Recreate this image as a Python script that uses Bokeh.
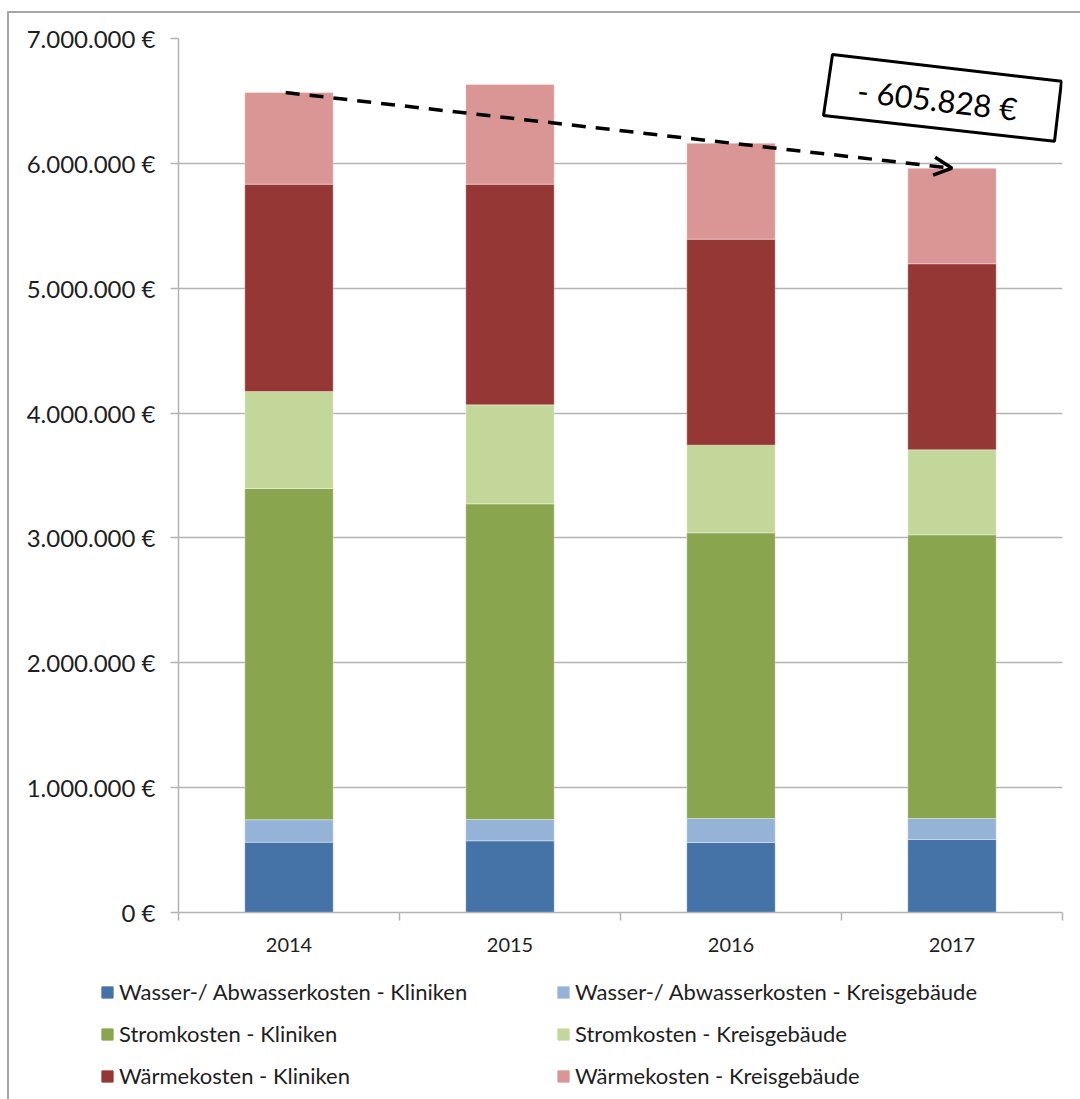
from bokeh.plotting import figure
from bokeh.layouts import column, row
from bokeh.models import (ColumnDataSource, Range1d, FixedTicker, Legend, LegendItem,
                          Arrow, OpenHead, Label, PolyAnnotation)
from bokeh.embed import file_html
from bokeh.resources import INLINE

# ---------------- data ----------------
years = ["2014", "2015", "2016", "2017"]
wasser_kliniken = [563000, 574000, 561000, 585000]
wasser_kreis = [180000, 171000, 192000, 168000]
strom_kliniken = [2653000, 2528000, 2288000, 2272000]
strom_kreis = [777000, 793000, 702000, 681000]
waerme_kliniken = [1660000, 1767000, 1650000, 1490000]
waerme_kreis = [734000, 799000, 768000, 765000]
y_ticks = [0, 1000000, 2000000, 3000000, 4000000, 5000000, 6000000, 7000000]
annotation_text = "- 605.828 €"

series_names = [
    "Wasser-/ Abwasserkosten - Kliniken",
    "Wasser-/ Abwasserkosten - Kreisgebäude",
    "Stromkosten - Kliniken",
    "Stromkosten - Kreisgebäude",
    "Wärmekosten - Kliniken",
    "Wärmekosten - Kreisgebäude",
]
colors = ["#4572A7", "#95B3D7", "#89A54E", "#C4D79B", "#953735", "#D99694"]

FONT = "Lato"
TXT = "#1e1e1e"
GRID = "#b3b3b3"

x = [i + 0.5 for i in range(len(years))]
keys = ["wk", "wkr", "sk", "skr", "wak", "wakr"]
data = dict(x=x, wk=wasser_kliniken, wkr=wasser_kreis, sk=strom_kliniken,
            skr=strom_kreis, wak=waerme_kliniken, wakr=waerme_kreis)
src = ColumnDataSource(data)
totals = [sum(v) for v in zip(wasser_kliniken, wasser_kreis, strom_kliniken,
                               strom_kreis, waerme_kliniken, waerme_kreis)]

# ---------------- main chart ----------------
p = figure(width=1071, height=962, output_backend="svg", toolbar_location=None,
           x_range=Range1d(0, len(years)), y_range=Range1d(0, 7000000),
           min_border_left=169, min_border_right=18, min_border_top=25,
           min_border_bottom=63)
p.outline_line_color = None
p.background_fill_color = "white"
p.border_fill_color = "white"

renderers = p.vbar_stack(keys, x="x", width=0.4, source=src, color=colors,
                         line_color="white", line_alpha=0.35, line_width=1)

p.xaxis.ticker = FixedTicker(ticks=x, minor_ticks=list(range(len(years) + 1)))
p.xaxis.major_label_overrides = {xi: y for xi, y in zip(x, years)}
p.xaxis.major_tick_out = 0
p.xaxis.major_tick_in = 0
p.xaxis.minor_tick_out = 8
p.xaxis.minor_tick_in = 0
p.xaxis.minor_tick_line_color = GRID
p.xaxis.minor_tick_line_width = 1.5
p.xaxis.axis_line_color = GRID
p.xaxis.axis_line_width = 1.5
p.xaxis.major_label_standoff = 17
p.xaxis.major_label_text_font = FONT
p.xaxis.major_label_text_font_size = "20px"
p.xaxis.major_label_text_color = TXT

p.yaxis.ticker = FixedTicker(ticks=y_ticks, minor_ticks=[])
p.yaxis.major_label_overrides = {t: f"{t:,}".replace(",", ".") + " €" for t in y_ticks}
p.yaxis.major_tick_out = 8
p.yaxis.major_tick_in = 0
p.yaxis.major_tick_line_color = GRID
p.yaxis.major_tick_line_width = 1.5
p.yaxis.minor_tick_line_color = None
p.yaxis.axis_line_color = GRID
p.yaxis.axis_line_width = 1.5
p.yaxis.major_label_standoff = 15
p.yaxis.major_label_text_font = FONT
p.yaxis.major_label_text_font_size = "24px"
p.yaxis.major_label_text_color = TXT

p.xgrid.grid_line_color = None
p.ygrid.grid_line_color = GRID
p.ygrid.grid_line_width = 1.5
p.ygrid.ticker = FixedTicker(ticks=y_ticks)

# dashed arrow between 2014 and 2017 totals
p.add_layout(Arrow(x_start=x[0] - 0.015, y_start=totals[0], x_end=x[-1], y_end=totals[-1],
                   line_dash="14 10", line_width=3.5, line_color="black",
                   end=OpenHead(size=18, line_width=3.5, line_color="black")))

# rotated annotation box (page pixels -> data units)
def to_data(sx, sy):
    return (sx - 178) / 221.0, (912 - sy) / 874.0 * 7000000

corners = [to_data(832, 54), to_data(1061, 80.8), to_data(1054, 140.8), to_data(823, 115)]
p.add_layout(PolyAnnotation(xs=[c[0] for c in corners], ys=[c[1] for c in corners],
                            fill_color="white", fill_alpha=1,
                            line_color="black", line_alpha=1, line_width=3))
lx, ly = to_data(937, 99)
p.add_layout(Label(x=lx, y=ly, text=annotation_text, angle=-0.117,
                   text_align="center", text_baseline="middle",
                   text_font=FONT, text_font_size="31px", text_color="black"))

# ---------------- legend strip ----------------
lg = figure(width=1071, height=124, output_backend="svg", toolbar_location=None,
            x_range=Range1d(0, 1071), y_range=Range1d(0, 124),
            x_axis_location=None, y_axis_location=None,
            min_border_left=0, min_border_right=0, min_border_top=0, min_border_bottom=0)
lg.grid.grid_line_color = None
lg.outline_line_color = None
lg.background_fill_color = "white"
lg.border_fill_color = "white"
swatches = [lg.vbar(x=[-50], top=[0], width=1, color=c) for c in colors]
items = [LegendItem(label=n, renderers=[r]) for n, r in zip(series_names, swatches)]
legend = Legend(items=items, orientation="horizontal", ncols=2,
                location=(91, 10), padding=0, margin=0, spacing=15,
                glyph_width=14, glyph_height=14, label_height=20, label_width=422,
                label_standoff=5, border_line_color=None, background_fill_alpha=0,
                label_text_font=FONT, label_text_font_size="22px",
                label_text_color=TXT)
lg.add_layout(legend, "center")

layout = column(p, row(lg, spacing=0), spacing=0,
                styles={"border-top": "2px solid #a6a6a6", "border-left": "2px solid #a6a6a6",
                        "margin-left": "7px", "margin-top": "11px"})
open("out.html", "w").write(file_html(layout, INLINE))
